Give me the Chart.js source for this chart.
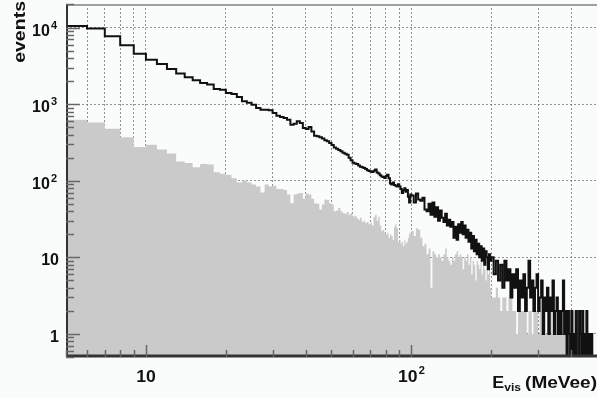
<!DOCTYPE html>
<html>
<head>
<meta charset="utf-8">
<script src="https://cdn.jsdelivr.net/npm/chart.js@4.4.0/dist/chart.umd.min.js"></script>
<style>
  html, body { margin: 0; padding: 0; background: #fafcfc; }
</style>
</head>
<body>
<canvas id="myChart" width="597" height="398"></canvas>
<script>
// bins: 1 MeV wide from 5, 2 MeV from 100, 4 MeV from 200, up to 500
const binStarts = [5, 100, 200];
const binWidths = [1, 2, 4];
const lastEdge = 500;

// black histogram (all events)
const totalEvents = [
    10500, 9700, 7700, 5860, 4560, 3810, 3350, 2880, 2520, 2240, 2050,
    1890, 1800, 1580, 1540, 1400, 1360, 1240, 1090, 1040, 985, 892, 848, 848, 830,
    768, 708, 680, 660, 628, 540, 556, 596, 568, 490, 474, 504, 441, 388, 380, 369,
    355, 337, 327, 310,
    292, 272, 262, 252, 242, 232, 225, 218, 200, 185,
    172, 168, 165, 158, 152, 150, 147, 142, 137, 134,
    132, 130, 135, 140, 128, 124, 118, 114, 112, 109,
    115, 120, 108, 92, 89, 95, 88, 86, 84, 90,
    84, 78, 69, 75, 80, 72, 76, 62, 52, 66,
    64, 52, 68, 57, 55, 60, 42, 40, 50, 36,
    52, 34, 45, 30, 41, 33, 29, 37, 26, 31,
    25, 29, 18, 25, 17, 27, 21, 29, 20, 26,
    18, 23, 16, 21, 13, 19, 12, 17, 11, 15,
    10, 14, 9, 13, 8, 12, 10, 7, 11, 9,
    10, 6, 9, 5, 8, 4, 9, 5, 7, 3, 6, 4,
    7, 2, 5, 3, 6, 2, 4, 9, 3, 5, 2, 4,
    6, 2, 3, 5, 1, 3, 2, 4, 1, 3, 2, 5,
    1, 2, 3, 1, 2, 1, 2, 5, 1, 2, 0, 2,
    1, 0, 2, 0, 1, 0, 2, 0, 0, 2, 1, 0,
    2, 0, 1, 0, 2, 0, 1, 0, 0, 1, 0, 0, 0, 0, 0
];

// grey filled histogram
const grayEvents = [
    628, 578, 479, 369, 276, 296, 255, 226, 178, 171, 150,
    166, 163, 129, 123, 120, 108, 95, 101, 95, 89, 84, 70, 89, 84,
    86, 78, 78, 76, 66, 51, 66, 68, 69, 58, 68, 66, 58, 51, 50, 42,
    49, 57, 56, 51,
    49, 40, 41, 44, 40, 38, 37, 39, 36, 38,
    34, 35, 33, 31, 33, 29, 30, 28, 29, 27,
    28, 26, 34, 36, 30, 34, 26, 22, 23, 21,
    20, 21, 18, 20, 19, 17, 25, 27, 24, 16,
    17, 15, 16, 14, 17, 15, 16, 18, 21, 20,
    22, 19, 24, 23, 18, 14, 15, 11, 13, 4,
    12, 11, 10, 11, 10, 9, 11, 13, 10, 9,
    8, 10, 9, 11, 12, 10, 11, 10, 7, 10,
    9, 11, 8, 10, 6, 9, 8, 5, 9, 8,
    7, 9, 6, 8, 7, 5, 8, 6, 7, 4,
    3, 3, 4, 3, 2, 3, 3, 2, 3, 3,
    2, 2, 1, 2, 2, 2, 2, 2, 1, 2, 2, 1, 2, 2, 2, 1, 2, 1, 2, 2, 1, 2, 1, 1, 2,
    1, 1, 2, 1, 1, 1, 1, 1, 2, 1, 1, 1, 1, 1, 1, 1, 1, 2, 1, 1, 1, 1, 1, 1, 1,
    1, 1, 1, 1, 1, 1, 1, 1,
    0, 0, 0, 0, 0, 0, 0
];

const xGridValues = [5, 6, 7, 8, 9, 10, 20, 30, 40, 50, 60, 70, 80, 90, 100, 200, 300, 400];
const yGridValues = [1, 10, 100, 1000, 10000];
const xLabels = [[10, ''], [100, '2']];
const yLabels = [[1, '1', ''], [10, '10', ''], [100, '10', '2'], [1000, '10', '3'], [10000, '10', '4']];

const edges = [];
binStarts.forEach((start, i) => {
    const end = i + 1 < binStarts.length ? binStarts[i + 1] : lastEdge;
    for (let e = start; e < end; e += binWidths[i]) edges.push(e);
});
edges.push(lastEdge);

function toSteps(counts) {
    const pts = counts.map((c, i) => ({ x: edges[i], y: c }));
    pts.push({ x: lastEdge, y: counts[counts.length - 1] });
    return pts;
}

const FONT = "'Liberation Sans', Arial, sans-serif";

function stretchedText(ctx, text, x, y, size, align, sx) {
    ctx.save();
    ctx.font = 'bold ' + size + 'px ' + FONT;
    ctx.textAlign = align;
    ctx.textBaseline = 'alphabetic';
    ctx.translate(x, y);
    ctx.scale(sx, 1);
    ctx.fillText(text, 0, 0);
    const w = ctx.measureText(text).width * sx;
    ctx.restore();
    return w;
}

function textWidth(ctx, text, size, sx) {
    ctx.save();
    ctx.font = 'bold ' + size + 'px ' + FONT;
    const w = ctx.measureText(text).width * sx;
    ctx.restore();
    return w;
}

const decorations = {
    id: 'decorations',
    afterDraw(chart) {
        const ctx = chart.ctx;
        const area = chart.chartArea;
        const xs = chart.scales.x;
        const ys = chart.scales.y;
        ctx.save();

        // frame
        ctx.strokeStyle = '#a0a0a0';
        ctx.lineWidth = 2;
        ctx.beginPath();
        ctx.moveTo(area.left, area.top + 1);
        ctx.lineTo(area.right, area.top + 1);
        ctx.stroke();

        ctx.strokeStyle = '#333';
        ctx.lineWidth = 2;
        ctx.beginPath();
        ctx.moveTo(area.left + 1, area.top);
        ctx.lineTo(area.left + 1, area.bottom);
        ctx.stroke();
        ctx.lineWidth = 3;
        ctx.beginPath();
        ctx.moveTo(area.left, area.bottom - 1);
        ctx.lineTo(area.right, area.bottom - 1);
        ctx.stroke();

        // y ticks inside the frame
        ctx.strokeStyle = '#666';
        ctx.lineWidth = 1.5;
        for (let k = -1; k <= 4; k++) {
            for (let m = 1; m <= 9; m++) {
                const v = m * Math.pow(10, k);
                if (v < ys.min || v > ys.max) continue;
                const py = Math.round(ys.getPixelForValue(v)) + 0.5;
                const len = m === 1 ? 14 : 8;
                ctx.beginPath();
                ctx.moveTo(area.left, py);
                ctx.lineTo(area.left + len, py);
                ctx.stroke();
            }
        }
        // x ticks inside the frame
        xGridValues.forEach(v => {
            const px = Math.round(xs.getPixelForValue(v)) + 0.5;
            const len = (v === 10 || v === 100) ? 12 : 7;
            ctx.beginPath();
            ctx.moveTo(px, area.bottom);
            ctx.lineTo(px, area.bottom - len);
            ctx.stroke();
        });

        ctx.fillStyle = '#111';
        // y tick labels
        yLabels.forEach(([v, base, sup]) => {
            const py = ys.getPixelForValue(v);
            const right = 59;
            if (sup) {
                const ws = textWidth(ctx, sup, 11, 1);
                stretchedText(ctx, sup, right - 2, py + 1, 11, 'right', 1);
                stretchedText(ctx, base, right - 2 - ws - 1, py + 8, 16, 'right', 1);
            } else {
                stretchedText(ctx, base, right, py + 8, 16, 'right', 1);
            }
        });
        // x tick labels
        xLabels.forEach(([v, sup]) => {
            const px = xs.getPixelForValue(v);
            const wb = textWidth(ctx, '10', 16, 1.1);
            const ws = sup ? textWidth(ctx, sup, 11, 1) + 1 : 0;
            const left = px - (wb + ws) / 2;
            stretchedText(ctx, '10', left, 382, 16, 'left', 1.1);
            if (sup) stretchedText(ctx, sup, left + wb + 1, 374, 11, 'left', 1);
        });

        // x title: E_vis (MeVee)
        let xr = 597;
        const wm = stretchedText(ctx, '(MeVee)', xr, 388, 17, 'right', 1.12);
        xr -= wm + 4;
        const wv = stretchedText(ctx, 'vis', xr, 391, 11, 'right', 1.1);
        xr -= wv;
        stretchedText(ctx, 'E', xr, 388, 17, 'right', 1.05);

        // y title
        ctx.save();
        ctx.translate(25, 1);
        ctx.rotate(-Math.PI / 2);
        stretchedText(ctx, 'events', 0, 0, 16, 'right', 1.22);
        ctx.restore();

        ctx.restore();
    }
};

const ctx = document.getElementById('myChart').getContext('2d');
new Chart(ctx, {
    type: 'line',
    data: {
        datasets: [{
            label: 'all',
            data: toSteps(totalEvents),
            stepped: 'before',
            borderColor: '#111',
            borderWidth: 2,
            pointRadius: 0,
            fill: false,
            order: 0
        }, {
            label: 'selected',
            data: toSteps(grayEvents),
            stepped: 'before',
            borderWidth: 0,
            borderColor: 'rgba(0,0,0,0)',
            backgroundColor: '#cacaca',
            pointRadius: 0,
            fill: 'start',
            order: 1
        }]
    },
    options: {
        responsive: false,
        animation: false,
        devicePixelRatio: 1,
        parsing: false,
        layout: { padding: { left: 66, top: 4, right: 0, bottom: 41 } },
        plugins: { legend: { display: false }, tooltip: { enabled: false } },
        scales: {
            x: {
                type: 'logarithmic',
                min: 5,
                max: 500,
                bounds: 'data',
                z: 1,
                afterBuildTicks: s => { s.ticks = xGridValues.map(v => ({ value: v })); },
                ticks: { display: false },
                grid: { color: 'rgba(110,110,110,0.75)', lineWidth: 1, drawTicks: false },
                border: { display: false, dash: [2, 2] }
            },
            y: {
                type: 'logarithmic',
                min: 0.5,
                max: 20300,
                bounds: 'data',
                z: 1,
                afterBuildTicks: s => { s.ticks = yGridValues.map(v => ({ value: v })); },
                ticks: { display: false },
                grid: { color: 'rgba(110,110,110,0.75)', lineWidth: 1, drawTicks: false },
                border: { display: false, dash: [2, 2] }
            }
        }
    },
    plugins: [decorations]
});
</script>
</body>
</html>
